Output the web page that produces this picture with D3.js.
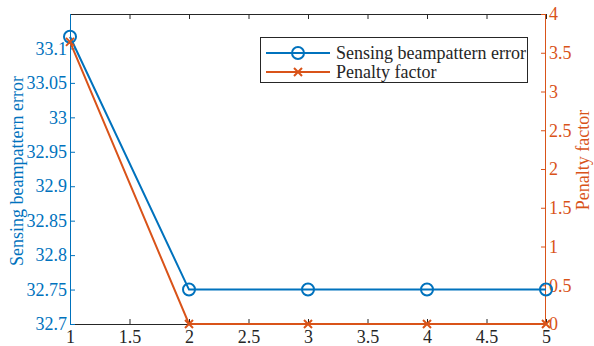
<!DOCTYPE html>
<html><head><meta charset="utf-8">
<script src="https://cdn.jsdelivr.net/npm/d3@7/dist/d3.min.js"></script>
<style>body{margin:0;background:#fff}svg{display:block}</style>
</head><body><svg id="c" width="594" height="346"></svg>
<script>
const iterations = [1, 2, 3, 4, 5];
const beamError = [33.117, 32.75, 32.75, 32.75, 32.75];
const penalty = [3.64, 0, 0, 0, 0];
const xTicks = [1, 1.5, 2, 2.5, 3, 3.5, 4, 4.5, 5];
const leftTicks = [32.7, 32.75, 32.8, 32.85, 32.9, 32.95, 33, 33.05, 33.1];
const rightTicks = [0, 0.5, 1, 1.5, 2, 2.5, 3, 3.5, 4];
const seriesNames = ["Sensing beampattern error", "Penalty factor"];

const blue = "#0072BD", orange = "#D95319", axisGray = "#262626";
const FF = "Liberation Serif";
const svg = d3.select("#c");
const L = 70, R = 546, T = 14, B = 324;
const x = d3.scaleLinear().domain([1, 5]).range([L, R]);
const yL = d3.scaleLinear().domain([32.7, 33.15]).range([B, T]);
const yR = d3.scaleLinear().domain([0, 4]).range([B, T]);
const fs = "18px";

function styleText(sel, col) {
  sel.attr("fill", col).style("font-size", fs).style("font-family", FF);
}

svg.append("line").attr("x1", L).attr("x2", R).attr("y1", T + 0.5).attr("y2", T + 0.5).attr("stroke", axisGray);
const xa = svg.append("g").attr("transform", `translate(0,${B})`)
  .call(d3.axisBottom(x).tickValues(xTicks).tickSize(-5).tickPadding(6).tickFormat(d3.format("")));
xa.select(".domain").attr("stroke", axisGray);
xa.selectAll(".tick line").attr("stroke", axisGray);
styleText(xa.selectAll("text"), axisGray);
const xt = svg.append("g").attr("transform", `translate(0,${T})`)
  .call(d3.axisTop(x).tickValues(xTicks).tickSize(-5).tickFormat(""));
xt.select(".domain").remove();
xt.selectAll(".tick line").attr("stroke", axisGray);

const ya = svg.append("g").attr("transform", `translate(${L},0)`)
  .call(d3.axisLeft(yL).tickValues(leftTicks).tickSize(-5).tickPadding(3).tickFormat(d3.format("")));
ya.select(".domain").attr("stroke", blue).attr("d", `M0.5,${B}V${T}`);
ya.selectAll(".tick line").attr("stroke", blue);
styleText(ya.selectAll("text"), blue);

const yr = svg.append("g").attr("transform", `translate(${R},0)`)
  .call(d3.axisRight(yR).tickValues(rightTicks).tickSize(-5).tickPadding(3).tickFormat(d3.format("")));
yr.select(".domain").attr("stroke", orange).attr("d", `M-0.5,${B}V${T}`);
yr.selectAll(".tick line").attr("stroke", orange);
styleText(yr.selectAll("text"), orange);

styleText(svg.append("text").attr("transform", `translate(23,171) rotate(-90)`)
  .attr("text-anchor", "middle").text("Sensing beampattern error"), blue);
styleText(svg.append("text").attr("transform", `translate(589,160) rotate(-90)`)
  .attr("text-anchor", "middle").text("Penalty factor"), orange);

const bData = iterations.map((d, i) => [d, beamError[i]]);
const pData = iterations.map((d, i) => [d, penalty[i]]);
svg.append("path").datum(bData).attr("fill", "none").attr("stroke", blue).attr("stroke-width", 2)
  .attr("d", d3.line().x(d => x(d[0])).y(d => yL(d[1])));
svg.append("path").datum(pData).attr("fill", "none").attr("stroke", orange).attr("stroke-width", 2)
  .attr("d", d3.line().x(d => x(d[0])).y(d => yR(d[1])));

function cross(g, cx, cy, s) {
  g.append("path").attr("d", `M${cx - s},${cy - s}L${cx + s},${cy + s}M${cx - s},${cy + s}L${cx + s},${cy - s}`)
    .attr("stroke", orange).attr("stroke-width", 2).attr("fill", "none");
}
svg.selectAll("circle.m").data(bData).enter().append("circle").attr("class", "m")
  .attr("cx", d => x(d[0])).attr("cy", d => yL(d[1])).attr("r", 6)
  .attr("fill", "none").attr("stroke", blue).attr("stroke-width", 2);
pData.forEach(d => cross(svg, x(d[0]), yR(d[1]), 4));

const lg = svg.append("g");
lg.append("rect").attr("x", 260.5).attr("y", 37.5).attr("width", 267).attr("height", 45)
  .attr("fill", "#fff").attr("stroke", axisGray).attr("stroke-width", 1);
lg.append("line").attr("x1", 266).attr("x2", 330).attr("y1", 53).attr("y2", 53).attr("stroke", blue).attr("stroke-width", 2);
lg.append("circle").attr("cx", 298).attr("cy", 53).attr("r", 6).attr("fill", "none").attr("stroke", blue).attr("stroke-width", 2);
lg.append("line").attr("x1", 266).attr("x2", 330).attr("y1", 72).attr("y2", 72).attr("stroke", orange).attr("stroke-width", 2);
cross(lg, 298, 72, 4);
styleText(lg.append("text").attr("x", 336).attr("y", 59).text(seriesNames[0]), axisGray);
styleText(lg.append("text").attr("x", 336).attr("y", 78).text(seriesNames[1]), axisGray);
</script></body></html>
